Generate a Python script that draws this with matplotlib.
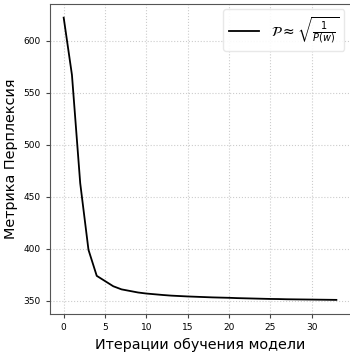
import matplotlib
matplotlib.use('Agg')
import matplotlib.pyplot as plt

iters = list(range(34))
perplexity = [622, 567, 463, 399, 374, 369, 364, 361, 359.5, 358, 357,
              356.3, 355.6, 355, 354.6, 354.2, 353.9, 353.6, 353.3, 353.1,
              352.9, 352.6, 352.4, 352.2, 352.0, 351.8, 351.7, 351.5,
              351.4, 351.3, 351.2, 351.1, 351.0, 350.9]

fig, ax = plt.subplots(figsize=(3.5, 3.54), dpi=100)
fig.subplots_adjust(left=0.143, right=1.0, top=0.99, bottom=0.113)

ax.plot(iters, perplexity, '-', color='black', lw=1.3,
        label=r'$\mathcal{P} \approx \sqrt{\frac{1}{P(w)}}$')

ax.set_xticks([0, 5, 10, 15, 20, 25, 30])
ax.set_yticks([350, 400, 450, 500, 550, 600])
ax.tick_params(labelsize=6.5, length=3, color='#444444')
ax.grid(True, linestyle=':', color='#cccccc', lw=0.8)

for s in ['left', 'bottom', 'top']:
    ax.spines[s].set_color('#555555')
ax.spines['right'].set_visible(False)

ax.set_xlabel('Итерации обучения модели', fontsize=10.4)
ax.set_ylabel('Метрика Перплексия', fontsize=10.4)

leg = ax.legend(loc='upper right', fontsize=10, handlelength=2.2, framealpha=0.9,
                borderaxespad=0.4)
leg.get_frame().set_edgecolor('#e6e6e6')

fig.savefig('out.png', dpi=100)
